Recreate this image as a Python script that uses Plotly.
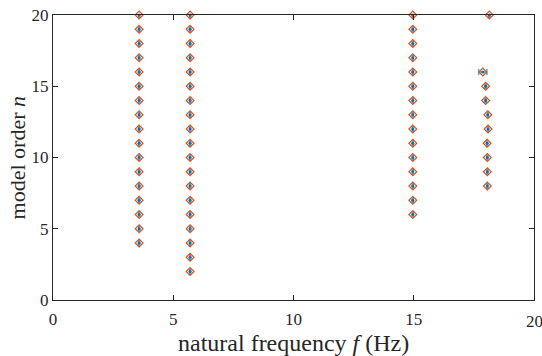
import plotly.graph_objects as go

# stabilisation diagram: identified natural frequencies per model order
order_1 = [4, 5, 6, 7, 8, 9, 10, 11, 12, 13, 14, 15, 16, 17, 18, 19, 20]
freq_1 = [3.58] * 17
std_1 = [0.02] * 17

order_2 = [2, 3, 4, 5, 6, 7, 8, 9, 10, 11, 12, 13, 14, 15, 16, 17, 18, 19, 20]
freq_2 = [5.70] * 19
std_2 = [0.02] * 19

order_3 = [6, 7, 8, 9, 10, 11, 12, 13, 14, 15, 16, 17, 18, 19, 20]
freq_3 = [14.96] * 15
std_3 = [0.02] * 15

order_4 = [8, 9, 10, 11, 12, 13, 14, 15, 16, 20]
freq_4 = [18.06, 18.06, 18.06, 18.05, 18.09, 18.08, 17.99, 17.99, 17.87, 18.14]
std_4 = [0.02, 0.02, 0.02, 0.02, 0.02, 0.02, 0.03, 0.03, 0.17, 0.03]

freq = freq_1 + freq_2 + freq_3 + freq_4
order = order_1 + order_2 + order_3 + order_4
std = std_1 + std_2 + std_3 + std_4

x_ticks = [0, 5, 10, 15, 20]
y_ticks = [0, 5, 10, 15, 20]

AXCOL = '#262626'
FONT = 'Liberation Serif'

fig = go.Figure()

# errorbar (blue)
fig.add_trace(go.Scatter(
    x=freq, y=order,
    mode='markers',
    marker=dict(color='#0072BD', size=3),
    error_x=dict(type='data', array=std, visible=True,
                 color='#4DA3E0', thickness=1.5, width=3),
    showlegend=False,
    cliponaxis=False,
))

# diamonds (orange)
fig.add_trace(go.Scatter(
    x=freq, y=order,
    mode='markers',
    marker=dict(symbol='diamond-open', color='#D95319', size=6,
                line=dict(width=1.2, color='#D95319')),
    showlegend=False,
    cliponaxis=False,
))

axis_common = dict(
    showgrid=False, zeroline=False, automargin=False,
    showline=True, linecolor=AXCOL, linewidth=1,
    mirror='ticks', ticks='inside', ticklen=5, tickcolor=AXCOL,
    tickfont=dict(family=FONT, size=17, color=AXCOL),
)

fig.update_layout(
    width=542, height=356,
    margin=dict(l=53, r=8, t=15, b=56),
    paper_bgcolor='white', plot_bgcolor='white',
    xaxis=dict(range=[0, 20], tickvals=x_ticks, ticklabelstandoff=4, **axis_common),
    yaxis=dict(range=[0, 20], tickvals=y_ticks, **axis_common),
)

# last x tick label sits on the window edge (cut off, as in the reference)
fig.add_annotation(text=str(x_ticks[-1]), xref='x', yref='paper',
                   x=x_ticks[-1], y=0, yshift=-10, xanchor='center', yanchor='top',
                   showarrow=False, font=dict(family=FONT, size=17, color=AXCOL))

# axis labels
fig.add_annotation(text='natural frequency <i>f</i> (Hz)', xref='paper', yref='paper',
                   x=0.5, y=-0.151, xanchor='center', yanchor='middle', showarrow=False,
                   font=dict(family=FONT, size=24, color=AXCOL))
fig.add_annotation(text='model order <i>n</i>', xref='paper', yref='paper',
                   x=-0.073, y=0.5, xanchor='center', yanchor='middle', showarrow=False,
                   textangle=-90, font=dict(family=FONT, size=22, color=AXCOL))

# page has default body margin; remove it so the figure sits at the window corner
fig.write_html("out.html", config={'displayModeBar': False},
               post_script="document.body.style.margin='0';document.body.style.overflow='hidden';")
